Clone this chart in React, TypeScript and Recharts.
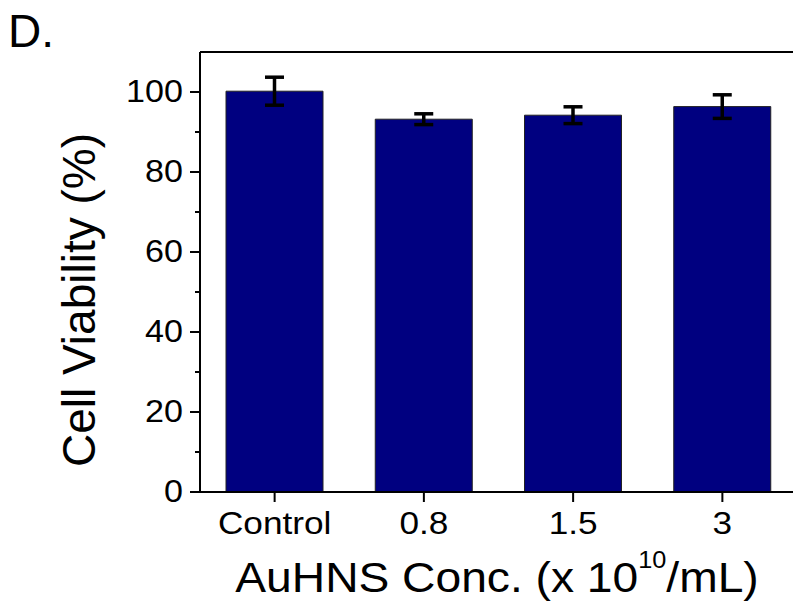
import React from 'react';
import { BarChart, Bar, XAxis, YAxis, ErrorBar, ReferenceLine } from 'recharts';

const categories = ['Control', '0.8', '1.5', '3'];
const viability = [100.2, 93.2, 94.2, 96.35];
const errors = [3.5, 1.35, 2.1, 2.95];
const yTicks = [0, 10, 20, 30, 40, 50, 60, 70, 80, 90, 100];

const data = categories.map((c, i) => ({ name: c, value: viability[i], err: errors[i] }));

const FONT = '"Liberation Sans", Arial, sans-serif';

const YTick = (props: any) => {
  const { x, y, payload } = props;
  const v = Number(payload.value);
  const major = v % 20 === 0;
  return (
    <g>
      <line x1={x - (major ? 10 : 5)} y1={y} x2={x} y2={y} stroke="#000" strokeWidth={2} />
      {major && (
        <text
          transform={`translate(${x - 17},${y + 10}) scale(1.1,1)`}
          textAnchor="end"
          fontSize={31}
          fontFamily={FONT}
          fill="#000"
        >
          {v}
        </text>
      )}
    </g>
  );
};

const XTick = (props: any) => {
  const { x, y, payload } = props;
  return (
    <text
      transform={`translate(${x},${y + 32}) scale(1.1,1)`}
      textAnchor="middle"
      fontSize={32}
      fontFamily={FONT}
      fill="#000"
    >
      {payload.value}
    </text>
  );
};

const XLabel = () => (
  <text
    transform="translate(497,592) scale(1.1,1)"
    textAnchor="middle"
    fontSize={42}
    fontFamily={FONT}
    fill="#000"
  >
    AuHNS Conc. (x 10
    <tspan dy={-24} fontSize={23}>10</tspan>
    <tspan dy={24}>/mL)</tspan>
  </text>
);

const YLabel = () => (
  <g>
    <text
      transform="translate(95,300) rotate(-90)"
      textAnchor="middle"
      fontSize={46}
      fontFamily={FONT}
      fill="#000"
    >
      Cell Viability (%)
    </text>
    <text x={8} y={47} fontSize={46} fontFamily={FONT} fill="#000">
      D.
    </text>
  </g>
);

export default function App() {
  return (
    <div style={{ position: 'absolute', left: 0, top: 0, width: 793, height: 603, overflow: 'hidden', background: '#fff' }}>
      <BarChart width={797} height={603} data={data} margin={{ top: 52, right: 0, left: 0, bottom: 0 }}>
        <XAxis
          dataKey="name"
          height={111}
          axisLine={{ stroke: '#000', strokeWidth: 2 }}
          tickLine={{ stroke: '#000', strokeWidth: 2 }}
          tickSize={10}
          tickMargin={0}
          tick={<XTick />}
          label={<XLabel />}
        />
        <YAxis
          width={200}
          domain={[0, 110]}
          ticks={yTicks}
          interval={0}
          axisLine={{ stroke: '#000', strokeWidth: 2 }}
          tickLine={false}
          tickSize={0}
          tickMargin={0}
          tick={<YTick />}
          label={<YLabel />}
        />
        <ReferenceLine y={110} stroke="#000" strokeWidth={2} />
        <Bar dataKey="value" fill="#000080" stroke="#222" strokeWidth={1} barSize={97} isAnimationActive={false}>
          <ErrorBar dataKey="err" width={9.5} stroke="#000" strokeWidth={3.5} isAnimationActive={false} />
        </Bar>
      </BarChart>
    </div>
  );
}
